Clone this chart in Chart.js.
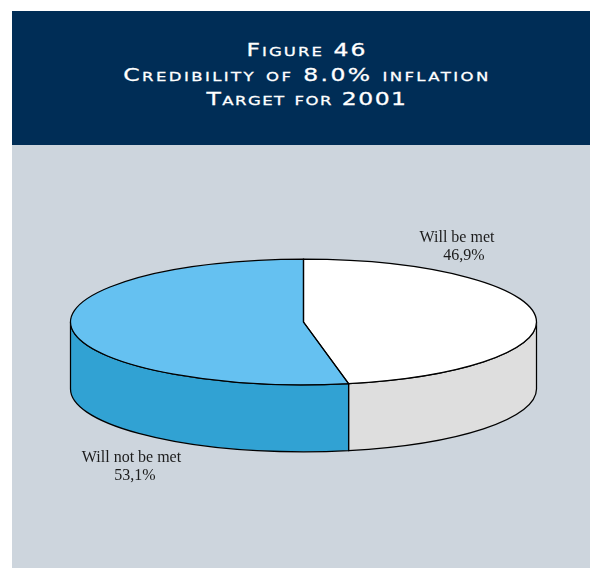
<!DOCTYPE html>
<html>
<head>
<meta charset="utf-8">
<script src="https://cdn.jsdelivr.net/npm/chart.js@4/dist/chart.umd.min.js"></script>
<style>
html,body{margin:0;padding:0;background:#fff;width:590px;height:568px;overflow:hidden}
#panel{position:absolute;left:12px;top:145px;width:590px;height:423px;background:#cdd5dd}
#head{position:absolute;left:12px;top:11px;width:590px;height:134px;background:#002d56;color:#fff;text-align:center;
font:small-caps 18.5px/24.5px "DejaVu Sans",sans-serif;letter-spacing:1.6px;-webkit-text-stroke:0.3px #fff}
#head div{position:relative;top:27px;white-space:nowrap;transform:scaleX(1.27)}
#head .l2{letter-spacing:1.9px}
#head .l3{letter-spacing:1.15px}
canvas{position:absolute;left:0;top:0}
</style>
</head>
<body>
<div id="panel"></div>
<div id="head"><div>Figure 46</div><div class="l2">Credibility of 8.0% inflation</div><div class="l3">Target for 2001</div></div>
<canvas id="c" width="590" height="568"></canvas>
<script>
const categories = ['Will be met', 'Will not be met'];
const shares = [46.9, 53.1];
const shareLabels = ['46,9%', '53,1%'];
const topColors = ['#ffffff', '#65c1f1'];
const wallColors = ['#dedede', '#31a2d3'];

const ELL = {cy: 322, ry: 62.8, depth: 67};
const TAU = Math.PI * 2;

function arcs(chart) { return chart.getDatasetMeta(0).data; }

const pie3d = {
  id: 'pie3d',
  beforeDatasetsDraw(chart) {
    const ctx = chart.ctx;
    arcs(chart).forEach((a, i) => {
      const p = a.getProps(['x', 'outerRadius', 'startAngle', 'endAngle'], true);
      // visible front part of the rim: canvas angles 0..PI
      let s = p.startAngle, e = p.endAngle;
      [[0, Math.PI], [TAU, TAU + Math.PI]].forEach(([lo, hi]) => {
        const s1 = Math.max(s, lo), e1 = Math.min(e, hi);
        if (e1 <= s1) return;
        ctx.save();
        ctx.beginPath();
        ctx.ellipse(p.x, ELL.cy, p.outerRadius, ELL.ry, 0, s1, e1);
        ctx.ellipse(p.x, ELL.cy + ELL.depth, p.outerRadius, ELL.ry, 0, e1, s1, true);
        ctx.closePath();
        ctx.fillStyle = wallColors[i];
        ctx.fill();
        ctx.lineWidth = 1.25;
        ctx.strokeStyle = '#000';
        ctx.stroke();
        ctx.restore();
      });
    });
    const a0 = arcs(chart)[0];
    ctx.save();
    ctx.translate(a0.x, ELL.cy);
    ctx.scale(1, ELL.ry / a0.outerRadius);
    ctx.translate(-a0.x, -a0.y);
  },
  afterDatasetsDraw(chart) {
    const ctx = chart.ctx;
    ctx.restore();
    ctx.save();
    ctx.lineWidth = 1.25;
    ctx.strokeStyle = '#000';
    arcs(chart).forEach(a => {
      const p = a.getProps(['x', 'outerRadius', 'startAngle', 'endAngle'], true);
      ctx.beginPath();
      ctx.moveTo(p.x, ELL.cy);
      ctx.ellipse(p.x, ELL.cy, p.outerRadius, ELL.ry, 0, p.startAngle, p.endAngle);
      ctx.closePath();
      ctx.stroke();
    });
    ctx.fillStyle = '#1c1c1c';
    ctx.font = '16px "Liberation Serif", serif';
    ctx.textAlign = 'center';
    ctx.textBaseline = 'alphabetic';
    ctx.fillText(categories[0], 457, 242);
    ctx.fillText(shareLabels[0], 464, 260);
    ctx.fillText(categories[1], 131.5, 462);
    ctx.fillText(shareLabels[1], 135, 480);
    ctx.restore();
  }
};

new Chart(document.getElementById('c'), {
  type: 'pie',
  data: {
    labels: categories,
    datasets: [{data: shares, backgroundColor: topColors, borderWidth: 0}]
  },
  options: {
    responsive: false,
    animation: false,
    layout: {padding: {left: 70.5, right: 53.5, top: 51, bottom: 51}},
    plugins: {legend: {display: false}, tooltip: {enabled: false}, title: {display: false}}
  },
  plugins: [pie3d]
});
</script>
</body>
</html>
